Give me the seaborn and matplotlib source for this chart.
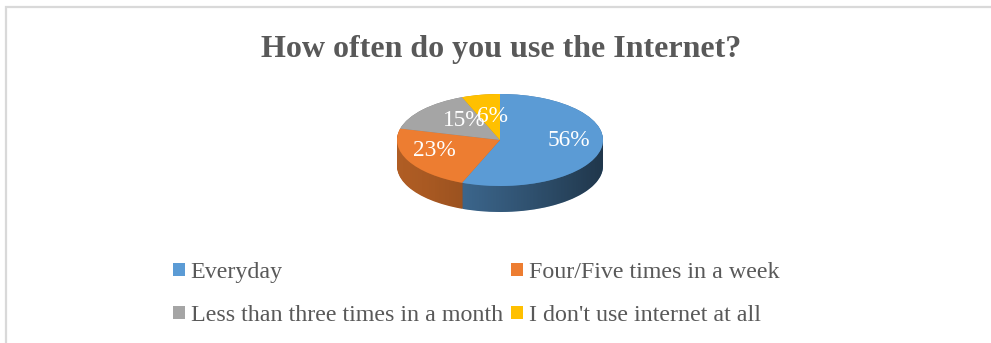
import numpy as np
import matplotlib
matplotlib.use("Agg")
import matplotlib.pyplot as plt
import seaborn as sns
from matplotlib.patches import Rectangle, PathPatch
from matplotlib.path import Path
import matplotlib.colors as mcolors

sns.set_theme(style="white")
plt.rcParams['font.family'] = ['Liberation Serif', 'DejaVu Serif']

# ---- data ----
categories = ["Everyday", "Four/Five times in a week",
              "Less than three times in a month", "I don't use internet at all"]
shares = [56, 23, 15, 6]
pct_labels = ["56%", "23%", "15%", "6%"]
title = "How often do you use the Internet?"
top_colors = ["#5B9BD5", "#ED7D31", "#A5A5A5", "#FFC000"]

W, H = 991, 343
fig = plt.figure(figsize=(W / 100, H / 100), dpi=100)
fig.patch.set_facecolor("white")

# chart border
fig.add_artist(Rectangle((6 / W, -0.1), 1.2, (H - 7) / H + 0.1,
                         transform=fig.transFigure, fill=False,
                         edgecolor="#D9D9D9", linewidth=1.6))

ax = fig.add_axes([0, 0, 1, 1])
cx_px, cy_px = 500, 140     # pixel centre of top face
rx_px, ry_px = 103, 46      # pixel semi-axes
depth = 26 / ry_px          # side depth in data units


def darker(c, f):
    r, g, b = mcolors.to_rgb(c)
    return (r * f, g * f, b * f)


side_colors = [darker(c, 0.78) for c in top_colors]

n_layers = 40
for k in np.linspace(depth, 0.0, n_layers):
    ax.pie(shares, colors=side_colors, startangle=90, counterclock=False,
           center=(0, -k), wedgeprops=dict(linewidth=0, antialiased=True))

# side shading: darker toward the right
t = np.linspace(np.pi, 2 * np.pi, 200)
top_edge = np.column_stack([np.cos(t), np.sin(t)])
bot_edge = np.column_stack([np.cos(t[::-1]), np.sin(t[::-1]) - depth])
band = Path(np.vstack([top_edge, bot_edge, top_edge[:1]]), closed=True)
grad = np.linspace(0, 1, 256).reshape(1, -1)
shade = np.zeros((1, 256, 4))
shade[..., 3] = 0.05 + 0.5 * grad ** 1.3
im = ax.imshow(shade, extent=(-1, 1, -1 - depth, 0), aspect="auto",
               interpolation="bilinear", zorder=5)
im.set_clip_path(PathPatch(band, transform=ax.transData))

# top face
wedges, _ = ax.pie(shares, colors=top_colors, startangle=90, counterclock=False,
                   center=(0, 0), wedgeprops=dict(linewidth=0))
for w in wedges:
    w.set_zorder(6)

# percentage labels (pixel positions relative to centre)
label_pos = [(569, 141), (434, 150), (464, 120), (493, 116)]
for (px, py), txt in zip(label_pos, pct_labels):
    ax.text((px - cx_px) / rx_px, (cy_px - py) / ry_px, txt, color="white",
            fontsize=16.8, ha="center", va="center", zorder=10)

ax.set_xlim(-cx_px / rx_px, (W - cx_px) / rx_px)
ax.set_ylim(-(H - cy_px) / ry_px, cy_px / ry_px)
ax.set_aspect("auto")
ax.axis("off")

fig.text(501 / W, 1 - 49 / H, title, ha="center", va="center",
         fontsize=23, fontweight="bold", color="#595959")

order = [0, 2, 1, 3]
leg = fig.legend([wedges[i] for i in order], [categories[i] for i in order],
                 ncol=2, loc="center", bbox_to_anchor=(476 / W, 1 - 294 / H),
                 frameon=False, fontsize=17.3, handlelength=0.5,
                 handleheight=0.5, handletextpad=0.25, columnspacing=0.33,
                 labelspacing=0.92, borderpad=0, borderaxespad=0)
for txt in leg.get_texts():
    txt.set_color("#595959")

fig.savefig("out.png", dpi=100, facecolor="white")
